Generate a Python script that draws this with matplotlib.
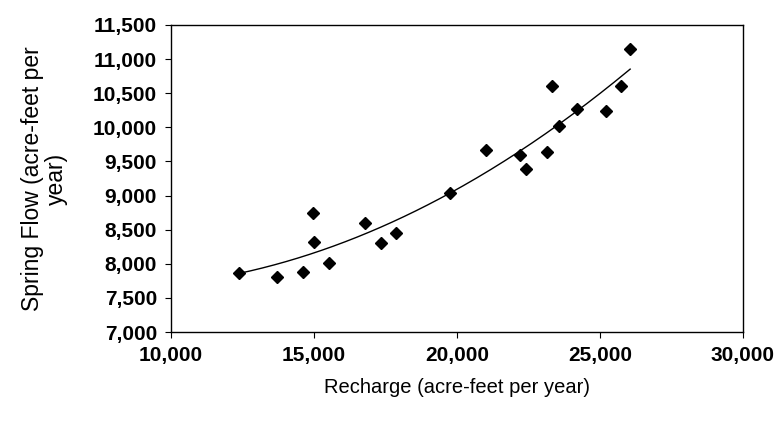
import numpy as np
import matplotlib.pyplot as plt
from matplotlib.ticker import FuncFormatter, MultipleLocator

plt.rcParams['font.family'] = ['Liberation Sans', 'DejaVu Sans']

# recharge (acre-feet per year) vs spring flow (acre-feet per year)
recharge = [12375, 13710, 14610, 14960, 15020, 15520, 16780, 17330, 17880,
            19770, 21030, 22210, 22400, 23150, 23320, 23570, 24210, 25220,
            25740, 26060]
spring_flow = [7867, 7800, 7887, 8750, 8320, 8013, 8598, 8306, 8458,
               9042, 9671, 9588, 9388, 9636, 10607, 10012, 10270, 10246,
               10607, 11142]

x = np.array(recharge)
y = np.array(spring_flow)

# polynomial trendline (order 2)
coef = np.polyfit(x, y, 2)
xs = np.linspace(x.min(), x.max(), 200)
ys = np.polyval(coef, xs)

fig = plt.figure(figsize=(7.77, 4.22), dpi=100)
ax = fig.add_axes([0.22, 0.213, 0.736, 0.728])

ax.plot(xs, ys, color='black', lw=1.0)
ax.plot(x, y, linestyle='none', marker='D', markersize=6.5, color='black')

ax.set_xlim(10000, 30000)
ax.set_ylim(7000, 11500)
ax.xaxis.set_major_locator(MultipleLocator(5000))
ax.yaxis.set_major_locator(MultipleLocator(500))
fmt = FuncFormatter(lambda v, p: f"{int(v):,}")
ax.xaxis.set_major_formatter(fmt)
ax.yaxis.set_major_formatter(fmt)

for lbl in ax.get_xticklabels() + ax.get_yticklabels():
    lbl.set_fontweight('bold')
ax.tick_params(axis='both', direction='out', length=4, width=0.8,
               labelsize=15, pad=6, colors='black')
for s in ax.spines.values():
    s.set_linewidth(1.0)
    s.set_color('black')

ax.set_xlabel("Recharge (acre-feet per year)", fontsize=14.5, labelpad=9)
ax.set_ylabel("Spring Flow (acre-feet per\nyear)", fontsize=16.5,
              linespacing=1.05)
ax.yaxis.set_label_coords(-0.18, 0.5)

fig.savefig("out.png", dpi=100)
